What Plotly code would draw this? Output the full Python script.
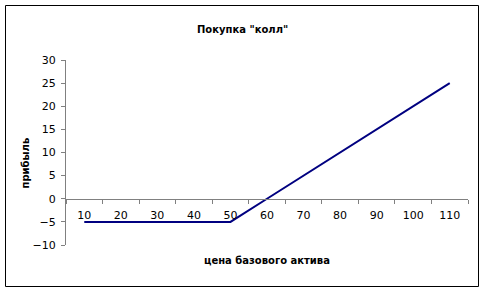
import plotly.graph_objects as go

prices = ["10", "20", "30", "40", "50", "60", "70", "80", "90", "100", "110"]
profit = [-5, -5, -5, -5, -5, 0, 5, 10, 15, 20, 25]
y_ticks = [-10, -5, 0, 5, 10, 15, 20, 25, 30]

title_text = 'Покупка "колл"'
x_title = "цена базового актива"
y_title = "прибыль"

W, H = 484, 293
L, R, T, B = 66, 16, 60, 48
pw, ph = W - L - R, H - T - B

fig = go.Figure()
fig.add_trace(go.Scatter(x=prices, y=profit, mode="lines",
                         line=dict(color="#000080", width=2), showlegend=False,
                         hoverinfo="skip"))

font = dict(family="DejaVu Sans, Verdana, sans-serif", size=11, color="black")

ymin, ymax = -10, 30
fig.update_layout(
    width=W, height=H,
    margin=dict(l=L, r=R, t=T, b=B),
    paper_bgcolor="white", plot_bgcolor="white",
    font=font,
    xaxis=dict(type="category", range=[-0.5, 10.5], showgrid=False, zeroline=False,
               showline=True, linecolor="#808080", linewidth=1,
               ticks="outside", ticklen=4, tickcolor="#808080", tickson="boundaries",
               anchor="free", position=(0 - ymin) / (ymax - ymin),
               ticklabelstandoff=6, tickfont=font),
    yaxis=dict(range=[ymin, ymax], tickvals=y_ticks, showgrid=False, zeroline=False,
               showline=True, linecolor="#808080", linewidth=1,
               ticks="outside", ticklen=4, tickcolor="#808080",
               ticklabelstandoff=3, tickfont=font),
)

def px_x(x):
    return (x - L) / pw

def px_y(y):
    return 1 - (y - T) / ph

fig.add_annotation(text="<b>" + title_text + "</b>", xref="paper", yref="paper",
                   x=px_x(242), y=px_y(22), showarrow=False,
                   font=dict(family="DejaVu Sans, Verdana, sans-serif", size=10, color="black"))
fig.add_annotation(text="<b>" + x_title + "</b>", xref="paper", yref="paper",
                   x=px_x(267), y=px_y(268), showarrow=False,
                   font=dict(family="DejaVu Sans, Verdana, sans-serif", size=10, color="black"))
fig.add_annotation(text="<b>" + y_title + "</b>", xref="paper", yref="paper",
                   x=px_x(17), y=px_y(163), showarrow=False, textangle=-90,
                   font=dict(family="DejaVu Sans, Verdana, sans-serif", size=10, color="black"))

fig.add_shape(type="rect", xref="paper", yref="paper",
              x0=px_x(5.5), x1=px_x(478.5), y0=px_y(286.5), y1=px_y(5.5),
              line=dict(color="black", width=1), fillcolor="rgba(0,0,0,0)", layer="below")

fig.write_html("out.html")
